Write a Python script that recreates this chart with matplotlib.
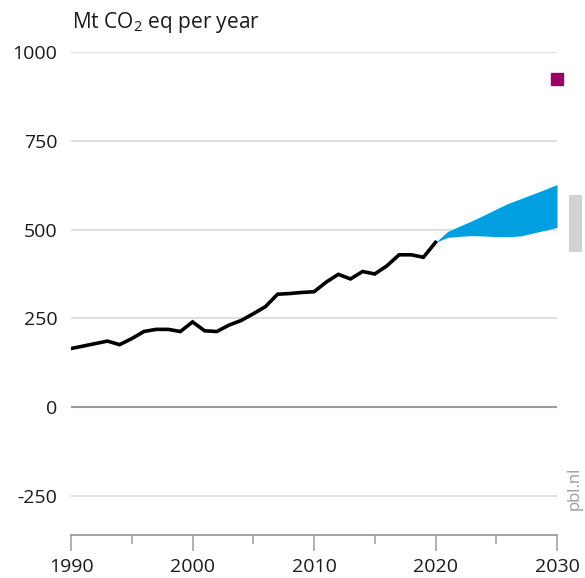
import matplotlib
matplotlib.use("Agg")
import matplotlib.pyplot as plt
from matplotlib.ticker import MultipleLocator
from matplotlib.patches import Rectangle

matplotlib.rcParams['font.family'] = ['Open Sans', 'DejaVu Sans']
matplotlib.rcParams['mathtext.fontset'] = 'custom'
matplotlib.rcParams['mathtext.rm'] = 'Open Sans'

BLACK = "#000000"
BLUE = "#009fe0"
MAGENTA = "#9a0063"
LIGHT_GREY = "#d2d2d2"
GRID = "#d9d9d9"
AXIS_GREY = "#9b9b9b"

# historic emissions
years = list(range(1990, 2021))
emissions = [165, 172, 179, 186, 176, 193, 213, 219, 219, 213,
             240, 215, 213, 231, 244, 263, 283, 318, 320, 323,
             325, 352, 374, 361, 382, 375, 398, 429, 429, 422,
             464]

# projection band
proj_years = list(range(2020, 2031))
proj_low = [464, 478, 481, 483, 482, 480, 480, 482, 490, 498, 506]
proj_high = [464, 495, 510, 525, 541, 558, 574, 587, 600, 613, 627]

# target point and range
target_year = 2030
target_value = 925
range_low = 438
range_high = 598

fig = plt.figure(figsize=(5.85, 5.78), dpi=100)
ax = fig.add_axes([0.1214, 0.0744, 0.8308, 0.8356])

for v in [-250, 250, 500, 750, 1000]:
    ax.axhline(v, color=GRID, lw=1.2, zorder=0)
ax.axhline(0, color=AXIS_GREY, lw=1.5, zorder=0)

ax.fill_between(proj_years, proj_low, proj_high, color=BLUE, lw=0, zorder=2)
ax.plot(years, emissions, color=BLACK, lw=2.6, solid_joinstyle='miter', zorder=3)

ax.plot([target_year], [target_value], marker='s', ms=8.5, color=MAGENTA,
        ls='none', clip_on=False, zorder=4)
ax.add_patch(Rectangle((2031.0, range_low), 1.05, range_high - range_low,
                       color=LIGHT_GREY, lw=0, clip_on=False))

ax.set_xlim(1990, 2030)
ax.set_ylim(-360, 1000)
ax.xaxis.set_major_locator(MultipleLocator(10))
ax.xaxis.set_minor_locator(MultipleLocator(5))
ax.set_yticks([-250, 0, 250, 500, 750, 1000])
ax.set_yticklabels(['-250', '0', '250', '500', '750', '1000'])

for s in ['top', 'right', 'left']:
    ax.spines[s].set_visible(False)
ax.spines['bottom'].set_color(AXIS_GREY)
ax.spines['bottom'].set_linewidth(1.3)

ax.tick_params(axis='y', length=0, pad=10, labelsize=14, labelcolor='#1a1a1a')
ax.tick_params(axis='x', which='major', length=11.5, width=1.1, color=AXIS_GREY,
               pad=5, labelsize=14, labelcolor='#1a1a1a')
ax.tick_params(axis='x', which='minor', length=6.5, width=1.1, color=AXIS_GREY)

fig.text(0.123, 0.952, r'Mt CO$_\mathregular{2}$ eq per year', fontsize=15,
         color='#1a1a1a', ha='left', va='baseline')
fig.text(0.983, 0.155, 'pbl.nl', rotation=90, fontsize=12, color='#9b9b9b',
         ha='center', va='center')

fig.savefig("out.png", dpi=100)
